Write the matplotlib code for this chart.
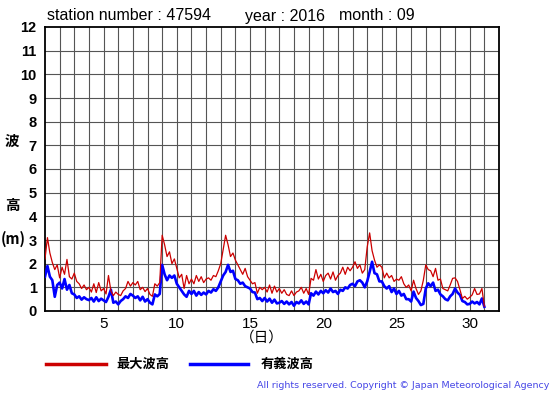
import matplotlib
matplotlib.use("Agg")
import matplotlib.pyplot as plt
from matplotlib.lines import Line2D
import numpy as np

# ---- data (wave heights in metres, 6 readings per day, Sept 1 .. Sept 30, plus end point) ----
sig_wave = [  # 有義波高 (blue)
    1.45, 1.9, 1.45, 1.3, 0.6, 1.1,
    1.2, 0.95, 1.35, 0.9, 1.1, 0.75,
    0.7, 0.55, 0.62, 0.48, 0.58, 0.5,
    0.46, 0.55, 0.4, 0.58, 0.42, 0.52,
    0.45, 0.38, 0.6, 0.9, 0.35, 0.4,
    0.28, 0.42, 0.5, 0.62, 0.55, 0.72,
    0.65, 0.55, 0.62, 0.45, 0.6, 0.4,
    0.5, 0.35, 0.28, 0.7, 0.62, 0.72,
    1.95, 1.55, 1.3, 1.5, 1.4, 1.5,
    1.15, 1.0, 0.85, 0.7, 0.6, 0.85,
    0.72, 0.85, 0.65, 0.8, 0.68, 0.78,
    0.7, 0.85, 0.78, 0.92, 0.85, 1.0,
    1.25, 1.5, 1.65, 1.95, 1.65, 1.7,
    1.35, 1.3, 1.15, 1.2, 1.05, 1.0,
    0.95, 0.8, 0.78, 0.5, 0.55, 0.42,
    0.55, 0.4, 0.52, 0.35, 0.48, 0.32,
    0.35, 0.42, 0.3, 0.4, 0.28, 0.38,
    0.22, 0.38, 0.32, 0.45, 0.3, 0.4,
    0.28, 0.75, 0.65, 0.82, 0.7, 0.85,
    0.75, 0.88, 0.78, 0.95, 0.8, 0.85,
    0.72, 0.9, 0.85, 1.0, 0.95, 1.1,
    1.15, 1.05, 1.25, 1.3, 1.2, 1.0,
    1.25, 1.65, 2.08, 1.6, 1.55, 1.25,
    1.25, 1.05, 0.95, 1.05, 0.8, 0.95,
    0.72, 0.85, 0.65, 0.72, 0.5, 0.5,
    0.4, 0.82, 0.55, 0.42, 0.25, 0.3,
    0.95, 1.17, 1.05, 1.2, 0.85, 0.9,
    0.7, 0.62, 0.5, 0.45, 0.62, 0.72,
    0.95, 0.78, 0.68, 0.42, 0.38, 0.28,
    0.3, 0.4, 0.32, 0.38, 0.28, 0.53,
    0.18,
]
max_wave = [  # 最大波高 (red)
    2.2, 3.1, 2.45, 2.05, 1.75, 1.95,
    1.4, 1.85, 1.55, 2.18, 1.45, 1.35,
    1.6, 1.25, 1.15, 0.95, 1.1, 0.9,
    1.0, 0.8, 1.15, 0.78, 1.2, 0.85,
    0.95, 0.72, 1.5, 0.85, 0.65, 0.8,
    0.7, 0.65, 0.85, 0.95, 1.25, 1.05,
    1.2, 1.1, 1.25, 0.9, 1.0, 0.82,
    0.95, 0.7, 0.62, 1.15, 1.05, 1.2,
    3.2, 2.8, 2.3, 2.5, 2.0, 2.2,
    1.8, 1.4, 1.55, 0.95, 1.5, 1.15,
    1.35, 1.15, 1.5, 1.25, 1.45, 1.2,
    1.35, 1.4, 1.3, 1.5, 1.45, 1.7,
    2.0, 2.6, 3.2, 2.8, 2.3, 2.45,
    2.15, 1.95, 1.75, 1.55, 1.8, 1.45,
    1.3, 1.15, 1.2, 0.75, 1.0, 0.9,
    1.0, 0.8, 1.1, 0.75, 1.05, 0.8,
    0.95, 0.75, 0.9, 0.7, 0.65, 0.85,
    0.65, 0.8, 0.85, 1.0, 0.75, 0.95,
    0.7, 1.38, 1.3, 1.75, 1.35, 1.55,
    1.25, 1.5, 1.6, 1.35, 1.65, 1.3,
    1.5, 1.6, 1.85, 1.55, 1.85, 1.7,
    1.85, 2.08, 1.8, 1.95, 1.6, 1.75,
    2.7, 3.3, 2.55, 2.15, 1.85, 1.95,
    1.85, 1.4, 1.6, 1.4, 1.5, 1.25,
    1.35, 1.3, 1.45, 1.15, 1.0, 1.1,
    0.85, 1.3, 0.95, 0.7, 0.85, 1.3,
    1.95, 1.75, 1.7, 1.45, 1.8, 1.3,
    1.35, 0.95, 0.9, 0.85, 1.1, 1.38,
    1.4, 1.25, 0.9, 0.53, 0.62, 0.5,
    0.58, 0.68, 0.95, 0.7, 0.72, 0.95,
    0.2,
]
readings_per_day = 6
xticks = [5, 10, 15, 20, 25, 30]
yticks = list(range(0, 13))
title_parts = ["station number : 47594", "year : 2016", "month : 09"]
legend_labels = ["最大波高", "有義波高"]

days = 1 + np.arange(len(sig_wave)) / readings_per_day

W, H = 555, 395
fig = plt.figure(figsize=(W / 100, H / 100), dpi=100)
fig.patch.set_facecolor("white")

def fx(x):
    return x / W

def fy(y):
    return 1 - y / H

ax = fig.add_axes([fx(45), fy(311), fx(499) - fx(45), fy(27) - fy(311)])
ax.set_xlim(1, 32)
ax.set_ylim(0, 12)
for d in range(2, 32):
    ax.axvline(d, color="#555555", lw=0.8, zorder=1)
for v in range(1, 12):
    ax.axhline(v, color="#555555", lw=0.8, zorder=1)

ax.plot(days, sig_wave, color="#0000ff", lw=1.9, zorder=3)
ax.plot(days, max_wave, color="#cc0000", lw=0.9, zorder=4)

ax.set_xticks(xticks)
ax.set_xticklabels([str(t) for t in xticks], fontsize=11, family="Liberation Sans")
ax.set_yticks(yticks)
ax.set_yticklabels([str(t) for t in yticks], fontsize=10.5, fontweight="bold",
                   family="Liberation Sans")
ax.tick_params(length=0, pad=4)
ax.tick_params(axis="y", pad=6)
for s in ax.spines.values():
    s.set_color("black")
    s.set_linewidth(1.3)

cjk = ["Noto Sans CJK JP", "DejaVu Sans"]
# title pieces
for txt, x in zip(title_parts, [47, 245, 339]):
    fig.text(fx(x), fy(16), txt, fontsize=11.5, family="Liberation Sans",
             ha="left", va="center")

# y label
fig.text(fx(12), fy(141), "波", fontsize=10.5, fontweight="bold", family=cjk,
         ha="center", va="center")
fig.text(fx(12), fy(205), "高", fontsize=10.5, fontweight="bold", family=cjk,
         ha="center", va="center")
fig.text(fx(1), fy(239), "(m)", fontsize=10.5, fontweight="bold", family=cjk,
         ha="left", va="center")
# x label
fig.text(fx(262), fy(338), "（日）", fontsize=10.5, family=cjk, ha="center", va="center")

# legend
fig.add_artist(Line2D([fx(46), fx(106)], [fy(364), fy(364)], color="#cc0000", lw=2.5,
                      transform=fig.transFigure))
fig.text(fx(116), fy(364), legend_labels[0], fontsize=9.5, fontweight="bold", family=cjk,
         ha="left", va="center")
fig.add_artist(Line2D([fx(190), fx(248)], [fy(364), fy(364)], color="#0000ff", lw=2.5,
                      transform=fig.transFigure))
fig.text(fx(261), fy(364), legend_labels[1], fontsize=9.5, fontweight="bold", family=cjk,
         ha="left", va="center")

fig.text(fx(549), fy(385), "All rights reserved. Copyright © Japan Meteorological Agency",
         fontsize=6.8, color="#4646e6", ha="right", va="center", family="DejaVu Sans")

fig.savefig("out.png", dpi=100)
